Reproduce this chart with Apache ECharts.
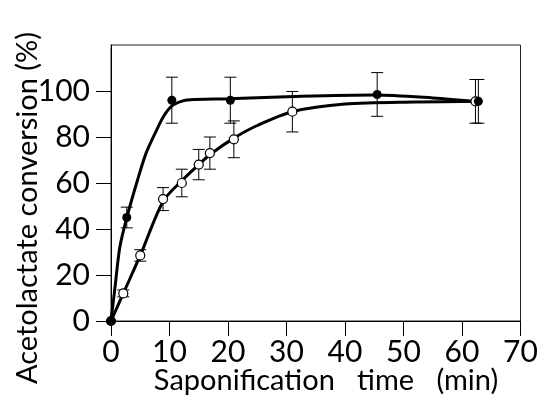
<!DOCTYPE html>
<html>
<head>
<meta charset="utf-8">
<script src="https://cdn.jsdelivr.net/npm/echarts@6/dist/echarts.min.js"></script>
<style>
html,body{margin:0;padding:0;background:#fff;}
#chart{width:544px;height:398px;}
</style>
</head>
<body>
<div id="chart"></div>
<script>
// Filled circles (measured points) with error bars
const filledX   = [0, 2.7, 10.4, 20.4, 45.5, 62.8];
const filledY   = [0, 45, 96, 96, 98.5, 95.5];
const filledErr = [0, 4.5, 10, 10, 9.5, 9.5];

// Open circles (measured points) with error bars
const openX   = [0, 2.1, 5.0, 8.9, 12.1, 15.0, 16.9, 21.0, 31.0, 62.3];
const openY   = [0, 12, 28.5, 53, 60, 68, 73, 79, 91, 95.5];
const openErr = [0, 1.5, 2.5, 5, 6, 6.6, 7, 8, 8.8, 9.5];

// Fitted curves
const filledFitX = [0, 0.7, 1.5, 2.7, 4.5, 6, 7.8, 9, 10.4, 12, 13.5, 20, 30, 45, 55, 63];
const filledFitY = [0, 15, 32, 45, 61, 73, 83, 89, 93.5, 95.5, 96.2, 96.6, 97.5, 98.3, 97, 95.3];
const openFitX = [0, 2.1, 5, 8.9, 12.1, 15, 17, 21, 25, 31, 40, 52, 63];
const openFitY = [0, 12, 28.5, 52, 61, 68, 72.5, 79.5, 85, 91, 94.3, 95.2, 95.5];

// Axis ranges / tick labels
const xMin = 0, xMax = 70, xStep = 10;
const yMin = 0, yMax = 120, yStep = 20, yLastLabel = 100;

const xName = 'Saponification   time   (min)';
const yName = 'Acetolactate conversion (%)';

const FONT = 'Lato';
const zip = (a, b) => a.map((v, i) => [v, b[i]]);
const errData = (xs, ys, es) => xs.map((v, i) => [v, ys[i] - es[i], ys[i] + es[i]]);

function errRender(params, api) {
  const x = api.value(0);
  if (api.value(2) - api.value(1) <= 0) return;
  const lo = api.coord([x, api.value(1)]);
  const hi = api.coord([x, api.value(2)]);
  const w = 6;
  const style = {stroke: '#000', lineWidth: 1};
  return {
    type: 'group',
    children: [
      {type: 'line', shape: {x1: lo[0], y1: lo[1], x2: hi[0], y2: hi[1]}, style},
      {type: 'line', shape: {x1: lo[0] - w, y1: lo[1], x2: lo[0] + w, y2: lo[1]}, style},
      {type: 'line', shape: {x1: hi[0] - w, y1: hi[1], x2: hi[0] + w, y2: hi[1]}, style}
    ]
  };
}

const chart = echarts.init(document.getElementById('chart'), null, {renderer: 'canvas'});
chart.setOption({
  animation: false,
  backgroundColor: '#fff',
  grid: {left: 111, right: 23.5, top: 45, bottom: 77, show: true, borderColor: '#222', borderWidth: 1, containLabel: false},
  xAxis: {
    type: 'value', min: xMin, max: xMax, interval: xStep,
    axisLine: {show: true, onZero: false, lineStyle: {color: '#000', width: 1}},
    axisTick: {show: true, inside: false, length: 15, lineStyle: {color: '#000', width: 1}},
    axisLabel: {margin: 16, color: '#000', fontFamily: FONT, fontSize: 30},
    splitLine: {show: false}
  },
  yAxis: {
    type: 'value', min: yMin, max: yMax, interval: yStep,
    axisLine: {show: true, onZero: false, lineStyle: {color: '#000', width: 1}},
    axisTick: {show: true, inside: false, length: 15, lineStyle: {color: '#000', width: 1}},
    axisLabel: {margin: 21, color: '#000', fontFamily: FONT, fontSize: 30,
      formatter: v => (v > yLastLabel ? '' : String(v))},
    splitLine: {show: false}
  },
  graphic: [
    // no tick at the top of the frame in the reference
    {type: 'rect', shape: {x: 93, y: 42, width: 17.5, height: 6}, style: {fill: '#fff'}, z: 100},
    {type: 'text', x: 326, y: 381, style: {text: xName, fontFamily: FONT, fontSize: 29, fill: '#000', align: 'center', verticalAlign: 'middle'}},
    {type: 'text', x: 28, y: 208, rotation: Math.PI / 2, style: {text: yName, fontFamily: FONT, fontSize: 29, fill: '#000', align: 'center', verticalAlign: 'middle'}}
  ],
  series: [
    {type: 'line', data: zip(filledFitX, filledFitY), smooth: 0.3, showSymbol: false, lineStyle: {color: '#000', width: 3}, z: 2},
    {type: 'line', data: zip(openFitX, openFitY), smooth: 0.3, showSymbol: false, lineStyle: {color: '#000', width: 3}, z: 2},
    {type: 'custom', data: errData(filledX, filledY, filledErr), renderItem: errRender, z: 3},
    {type: 'custom', data: errData(openX, openY, openErr), renderItem: errRender, z: 3},
    {type: 'scatter', data: zip(openX, openY), symbol: 'circle', symbolSize: 9, itemStyle: {color: '#fff', borderColor: '#000', borderWidth: 1.2, opacity: 1}, z: 4},
    {type: 'scatter', data: zip(filledX, filledY), symbol: 'circle', symbolSize: 9, itemStyle: {color: '#000', opacity: 1}, z: 5}
  ]
});
</script>
</body>
</html>
